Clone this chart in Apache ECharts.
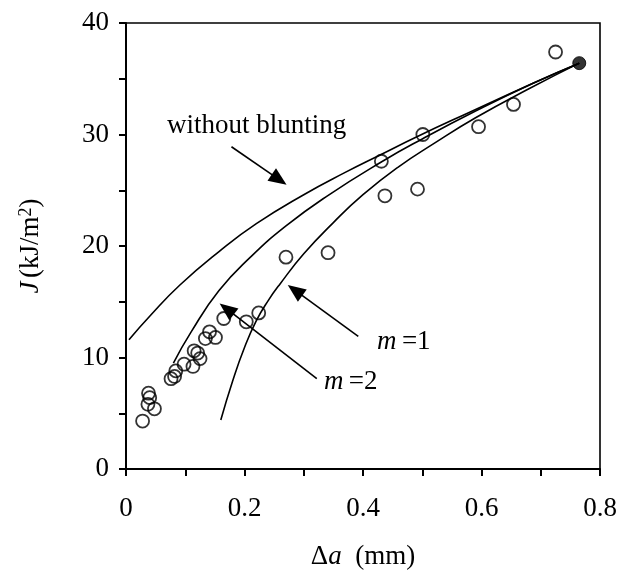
<!DOCTYPE html>
<html>
<head>
<meta charset="utf-8">
<script src="https://cdn.jsdelivr.net/npm/echarts@6/dist/echarts.min.js"></script>
<style>
  html, body { margin: 0; padding: 0; background: #fff; }
  #chart { width: 619px; height: 574px; }
</style>
</head>
<body>
<div id="chart"></div>
<script>
const FONT = '"Liberation Serif", "Times New Roman", serif';
const FS = 27;

// Axis ticks that carry a label
const xTickLabels = [0, 0.2, 0.4, 0.6, 0.8];
const yTickLabels = [0, 10, 20, 30, 40];

// Measured crack growth resistance: [Δa (mm), J (kJ/m²)]
const measured = [
  [0.028, 4.3], [0.038, 6.8], [0.040, 6.4], [0.037, 5.8], [0.048, 5.4],
  [0.076, 8.1], [0.082, 8.3], [0.084, 8.8], [0.098, 9.4], [0.113, 9.2],
  [0.115, 10.6], [0.121, 10.4], [0.125, 9.9], [0.134, 11.7], [0.141, 12.3],
  [0.151, 11.8], [0.165, 13.5], [0.203, 13.2], [0.224, 14.0], [0.270, 19.0],
  [0.341, 19.4], [0.431, 27.6], [0.437, 24.5], [0.492, 25.1], [0.501, 30.0],
  [0.595, 30.7], [0.654, 32.7], [0.725, 37.4]
];
// Fitting point shared by the three curves
const fitPoint = [[0.765, 36.4]];

// Predicted R-curves
const noBlunting = [
  [0.005, 11.6], [0.04, 13.7], [0.091, 16.5], [0.157, 19.5], [0.22, 22.0],
  [0.30, 24.6], [0.37, 26.6], [0.434, 28.3], [0.491, 29.8], [0.58, 32.0],
  [0.687, 34.6], [0.765, 36.4]
];
const bluntM2 = [
  [0.080, 9.5], [0.11, 12.3], [0.157, 16.0], [0.21, 19.0], [0.27, 21.8],
  [0.34, 24.5], [0.433, 27.6], [0.50, 29.6], [0.59, 32.1], [0.687, 34.6],
  [0.765, 36.4]
];
const bluntM1 = [
  [0.160, 4.4], [0.18, 7.9], [0.20, 10.9], [0.22, 13.3], [0.24, 15.1],
  [0.26, 16.6], [0.30, 19.3], [0.35, 22.1], [0.40, 24.6], [0.46, 27.1],
  [0.52, 29.2], [0.59, 31.5], [0.68, 34.1], [0.765, 36.4]
];

// Annotation arrows [tail, head] and label anchors (left edge, text middle), in data units
const arrowNoBlunting = [[0.178, 28.9], [0.271, 25.5]];
const arrowM1 = [[0.392, 11.9], [0.273, 16.5]];
const arrowM2 = [[0.322, 8.1], [0.158, 14.85]];
const labelNoBlunting = [0.0692, 30.76];
const labelM1 = [0.4236, 11.39];
const labelM2 = [0.334, 7.80];

const axisFont = { fontFamily: FONT, fontSize: FS, color: '#000' };
const isLabelled = (list, v) => list.some(t => Math.abs(t - v) < 1e-6);

const curveStyle = { color: '#000', width: 1.6 };
function curve(data) {
  return {
    type: 'line', data: data, smooth: 0.5,
    showSymbol: false, silent: true,
    lineStyle: curveStyle, itemStyle: { color: '#000' }, z: 2
  };
}

const option = {
  animation: false,
  backgroundColor: '#fff',
  grid: {
    left: 126, right: 19, top: 23, bottom: 105,
    show: true, borderColor: '#000', borderWidth: 1.6,
    outerBoundsMode: 'none'
  },
  xAxis: {
    type: 'value', min: 0, max: 0.8, interval: 0.1,
    axisLine: { onZero: false, lineStyle: { color: '#000', width: 2 } },
    axisTick: { inside: false, length: 7, lineStyle: { color: '#000', width: 2 } },
    splitLine: { show: false },
    axisLabel: Object.assign({
      margin: 26, showMinLabel: true, showMaxLabel: true,
      formatter: v => isLabelled(xTickLabels, v) ? String(Math.round(v * 10) / 10) : ''
    }, axisFont),
    name: '{n|Δ}{i|a}{n|  (mm)}',
    nameLocation: 'middle', nameGap: 74,
    nameTextStyle: {
      rich: {
        n: { fontFamily: FONT, fontSize: FS, color: '#000' },
        i: { fontFamily: FONT, fontSize: FS, fontStyle: 'italic', color: '#000' }
      }
    }
  },
  yAxis: {
    type: 'value', min: 0, max: 40, interval: 5,
    axisLine: { onZero: false, lineStyle: { color: '#000', width: 2 } },
    axisTick: { inside: false, length: 7, lineStyle: { color: '#000', width: 2 } },
    splitLine: { show: false },
    axisLabel: Object.assign({
      margin: 17, showMinLabel: true, showMaxLabel: true,
      formatter: v => isLabelled(yTickLabels, v) ? String(v) : ''
    }, axisFont),
    name: '{i|J} {n|(kJ/m}{s|2}{n|)}',
    nameLocation: 'middle', nameGap: 82, nameRotate: 90,
    nameTextStyle: {
      rich: {
        n: { fontFamily: FONT, fontSize: FS, color: '#000' },
        i: { fontFamily: FONT, fontSize: FS, fontStyle: 'italic', color: '#000' },
        s: { fontFamily: FONT, fontSize: 18, color: '#000', verticalAlign: 'top' }
      }
    }
  },
  series: [
    curve(noBlunting),
    curve(bluntM2),
    curve(bluntM1),
    {
      type: 'scatter', data: measured, symbol: 'circle', symbolSize: 13,
      itemStyle: { color: 'rgba(0,0,0,0)', borderColor: '#000', borderWidth: 1.8 },
      z: 3
    },
    {
      type: 'scatter', data: fitPoint, symbol: 'circle', symbolSize: 13,
      itemStyle: { color: '#000', borderColor: '#000', borderWidth: 1 },
      z: 4
    }
  ]
};

const chart = echarts.init(document.getElementById('chart'), null, { renderer: 'canvas' });
chart.setOption(option);

const toPx = p => chart.convertToPixel({ gridIndex: 0 }, p);

function arrowShapes(pair) {
  const a = toPx(pair[0]), b = toPx(pair[1]);
  const dx = b[0] - a[0], dy = b[1] - a[1];
  const len = Math.hypot(dx, dy), ux = dx / len, uy = dy / len;
  const headLen = 18, headHalf = 7.5;
  const base = [b[0] - ux * headLen, b[1] - uy * headLen];
  return [
    {
      type: 'line', silent: true,
      shape: { x1: a[0], y1: a[1], x2: base[0] + ux * 2, y2: base[1] + uy * 2 },
      style: { stroke: '#000', lineWidth: 1.6 }
    },
    {
      type: 'polygon', silent: true,
      shape: { points: [b, [base[0] - uy * headHalf, base[1] + ux * headHalf], [base[0] + uy * headHalf, base[1] - ux * headHalf]] },
      style: { fill: '#000' }
    }
  ];
}

function label(anchor, text, rich) {
  const p = toPx(anchor);
  return {
    type: 'text', silent: true, x: p[0], y: p[1],
    style: {
      text: text, rich: rich, fontFamily: FONT, fontSize: FS, fill: '#000',
      align: 'left', verticalAlign: 'middle'
    }
  };
}

const mRich = {
  i: { fontFamily: FONT, fontSize: FS, fontStyle: 'italic', color: '#000' },
  n: { fontFamily: FONT, fontSize: FS, color: '#000' }
};

chart.setOption({
  graphic: [].concat(
    arrowShapes(arrowNoBlunting),
    arrowShapes(arrowM1),
    arrowShapes(arrowM2),
    [
      label(labelNoBlunting, 'without blunting'),
      label(labelM1, '{i|m}{n|\u2009=1}', mRich),
      label(labelM2, '{i|m}{n|\u2009=2}', mRich)
    ]
  )
});
</script>
</body>
</html>
